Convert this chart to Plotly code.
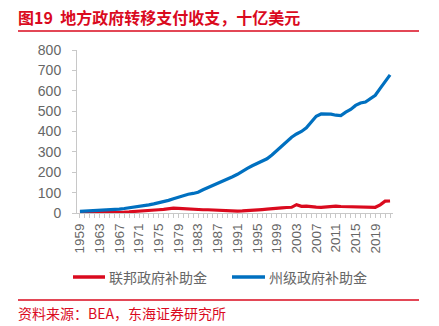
import plotly.graph_objects as go

years = list(range(1959, 2023))
federal = [2, 2, 2, 3, 3, 3, 4, 4, 5, 5, 6, 7, 8, 10, 12, 14, 16, 18, 21, 24,
           23, 21, 19, 17, 16, 16, 16, 15, 12, 10, 9, 9, 9, 10, 11, 13, 15, 17, 19, 22,
           24, 25, 27, 28, 41, 33, 34, 30, 29, 28, 30, 35, 34, 32, 31, 31, 30, 28, 28, 27,
           28, 40, 58, 59]
state = [8, 9, 10, 11, 12, 13, 15, 17, 19, 22, 25, 28, 32, 36, 40, 45, 50, 55, 62, 70,
         78, 86, 92, 96, 102, 114, 124, 134, 144, 158, 168, 178, 190, 206, 219, 232, 244, 255, 266, 285,
         308, 330, 352, 372, 388, 400, 418, 448, 475, 486, 486, 485, 480, 478, 495, 508, 528, 540, 545, 560,
         578, 612, 648, 678]
names = ["联邦政府补助金", "州级政府补助金"]
colors = ["#DA0A1E", "#0070C0"]
tick_years = list(range(1959, 2023, 4))

FONT = "Noto Sans CJK SC"
RED = "#DA0A1E"
GRAY = "#666666"

# plot area in pixels
L, R, T, B = 77, 393, 50, 213
W, H = R - L, B - T


def px(x):
    return (x - L) / W


def py(y):
    return (B - y) / H


fig = go.Figure()
for vals, name, col in zip([federal, state], names, colors):
    fig.add_trace(go.Scatter(x=years, y=vals, mode="lines", name=name,
                             line=dict(color=col, width=3.2), showlegend=False))

fig.update_layout(
    width=439, height=326,
    margin=dict(l=L, r=439 - R, t=T, b=326 - B),
    paper_bgcolor="white", plot_bgcolor="white",
    font=dict(family=FONT, color=GRAY),
    showlegend=False,
    xaxis=dict(range=[1958.4, 2022.6], tickmode="array", tickvals=tick_years,
               ticktext=[str(y) for y in tick_years], tickangle=-90,
               tickfont=dict(size=13.5, color=GRAY, family="Liberation Sans"),
               showgrid=False, zeroline=False, showline=True, linecolor="#C8C8C8",
               linewidth=1, ticks="outside", ticklen=4, tickcolor="#C8C8C8",
               minor=dict(dtick=1, tick0=1959, ticks="outside", ticklen=4,
                          tickcolor="#C8C8C8", showgrid=False)),
    yaxis=dict(range=[0, 800], dtick=100, showgrid=False, zeroline=False,
               showline=True, linecolor="#C8C8C8", linewidth=1,
               ticks="outside", ticklen=4, tickcolor="#C8C8C8",
               ticklabelstandoff=8,
               tickfont=dict(size=14, color=GRAY, family="Liberation Sans")),
)

# title
fig.add_annotation(xref="paper", yref="paper", x=px(16), y=py(17),
                   text="<b>图19  地方政府转移支付收支，十亿美元</b>", showarrow=False,
                   xanchor="left", yanchor="middle",
                   font=dict(size=16, color=RED, family=FONT))
for yline in (31, 300):
    fig.add_shape(type="line", xref="paper", yref="paper",
                  x0=px(18), x1=px(419), y0=py(yline), y1=py(yline),
                  line=dict(color=RED, width=1.3))

# legend (manual)
leg_y = 277
for (x0, x1, xt), name, col in zip([(73, 105, 107), (232, 265, 267)], names, colors):
    fig.add_shape(type="line", xref="paper", yref="paper",
                  x0=px(x0), x1=px(x1), y0=py(leg_y), y1=py(leg_y),
                  line=dict(color=col, width=3.5))
    fig.add_annotation(xref="paper", yref="paper", x=px(xt), y=py(leg_y),
                       text=name, showarrow=False, xanchor="left", yanchor="middle",
                       font=dict(size=14, color=GRAY, family=FONT))

# source
fig.add_annotation(xref="paper", yref="paper", x=px(16), y=py(313),
                   text="资料来源：BEA，东海证券研究所", showarrow=False,
                   xanchor="left", yanchor="middle",
                   font=dict(size=14, color=RED, family=FONT))

fig.write_html("out.html")
